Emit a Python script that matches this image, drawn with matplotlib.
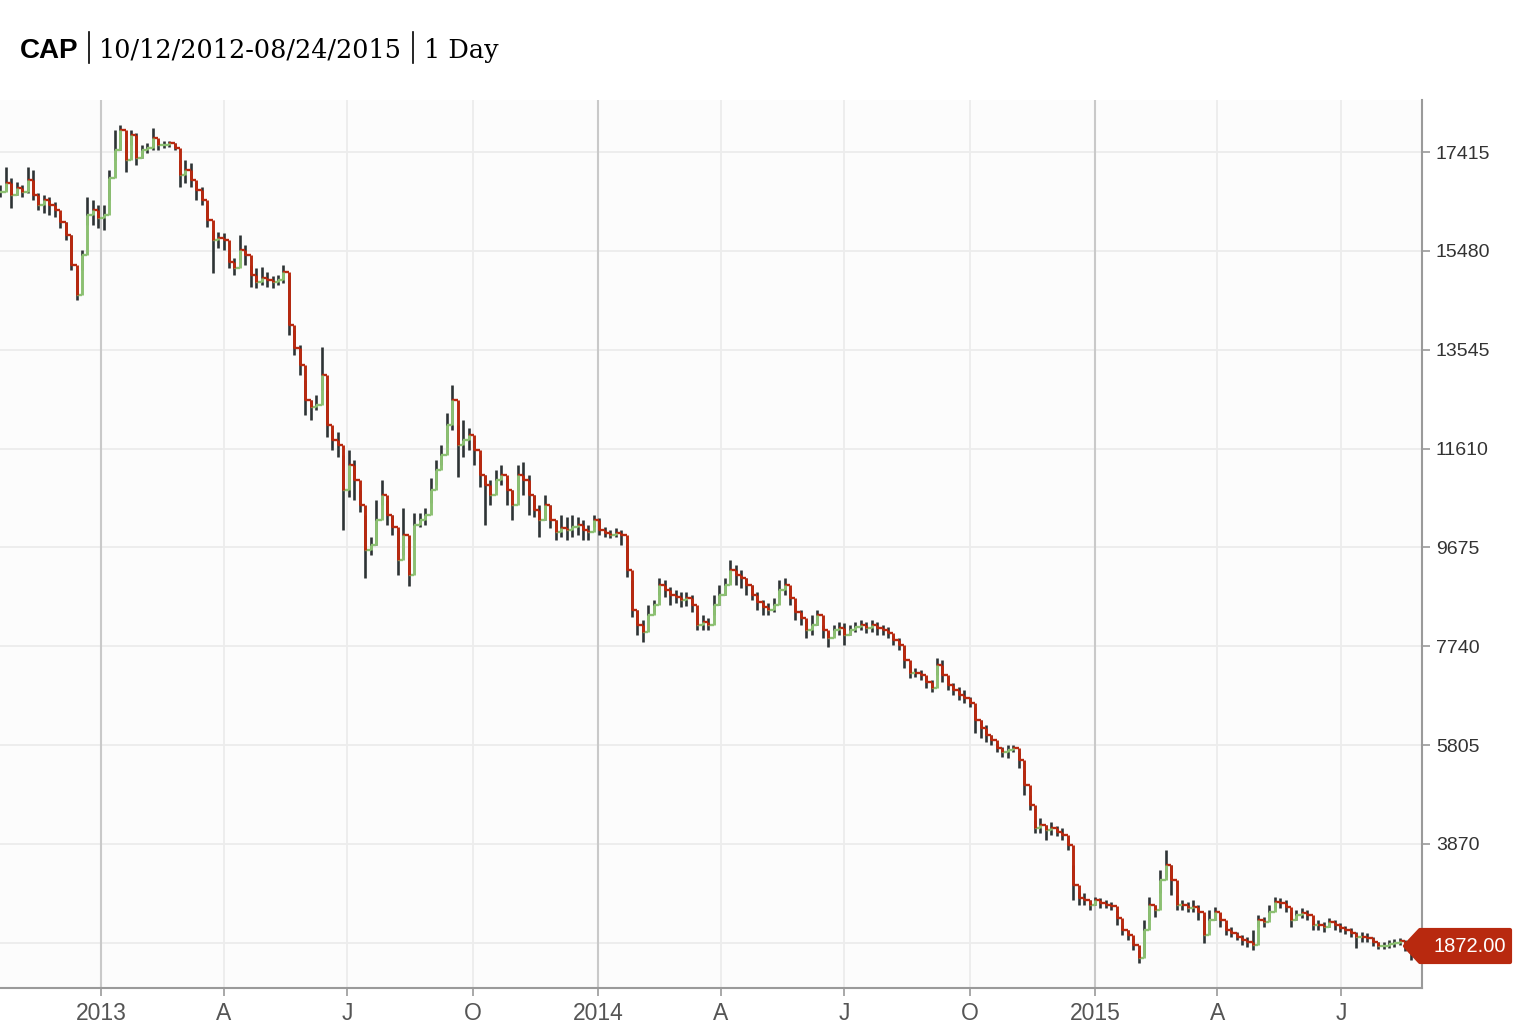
"""
CAP daily price chart, 10/12/2012 - 08/24/2015.
"""

import matplotlib
matplotlib.use("Agg")
import matplotlib.pyplot as plt
import matplotlib.dates as mdates
from matplotlib.lines import Line2D
from matplotlib.patches import Polygon
import numpy as np
import pandas as pd

# closes / highs / lows, one bar every 4 calendar days from 2012-10-19
closes = [
    16630, 16810, 16570, 16710, 16630, 16870, 16570, 16380, 16480, 16380,
    16280, 16050, 15790, 15200, 14620, 15400, 16180, 16280, 16120, 16180,
    16910, 17450, 17850, 17260, 17750, 17300, 17450, 17490, 17690, 17550,
    17550, 17590, 17490, 16960, 17060, 16870, 16670, 16480, 16080, 15690,
    15730, 15690, 15260, 15140, 15500, 15400, 15010, 14870, 14950, 14910,
    14870, 14910, 15070, 14030, 13580, 13250, 12560, 12420, 12460, 13050,
    12070, 11780, 11680, 10800, 11290, 10990, 10510, 9630, 9720, 10210,
    10700, 10310, 10080, 9430, 9920, 9140, 10110, 10210, 10310, 10800,
    11190, 11480, 12070, 12560, 11680, 11780, 11880, 11580, 11090, 10900,
    10700, 10990, 11090, 10800, 10510, 11090, 10990, 10700, 10410, 10210,
    10510, 10210, 9980, 10060, 10020, 10080, 10110, 10020, 9980, 10210,
    10020, 9960, 9920, 9960, 9920, 9230, 8450, 8160, 8020, 8350,
    8550, 8940, 8840, 8740, 8710, 8650, 8690, 8550, 8160, 8220,
    8160, 8550, 8740, 8940, 9230, 9140, 9080, 8940, 8740, 8610,
    8510, 8450, 8550, 8840, 8940, 8690, 8410, 8290, 8060, 8160,
    8350, 8060, 7900, 8060, 8100, 7960, 8060, 8120, 8160, 8100,
    8160, 8100, 8060, 8000, 7860, 7770, 7470, 7220, 7220, 7180,
    7040, 6920, 7370, 7180, 6980, 6890, 6790, 6730, 6630, 6300,
    6140, 6000, 5910, 5750, 5670, 5710, 5750, 5510, 5030, 4630,
    4180, 4240, 4140, 4180, 4100, 4050, 3850, 3070, 2810, 2770,
    2680, 2770, 2720, 2680, 2660, 2420, 2190, 2090, 1890, 1640,
    2190, 2680, 2580, 3170, 3460, 3170, 2680, 2680, 2620, 2640,
    2540, 2090, 2380, 2540, 2380, 2190, 2130, 2050, 1990, 1950,
    1890, 2380, 2340, 2540, 2740, 2720, 2640, 2380, 2480, 2520,
    2480, 2280, 2280, 2250, 2340, 2280, 2230, 2190, 2130, 2050,
    2050, 2030, 1950, 1870, 1870, 1910, 1930, 1970, 1850, 1870,
    1872,
]
highs = [
    16770, 17120, 16910, 16830, 16770, 17120, 17060, 16610, 16570, 16530,
    16440, 16180, 16050, 15790, 15110, 15500, 16530, 16480, 16380, 16380,
    17060, 17850, 17940, 17650, 17850, 17790, 17550, 17590, 17890, 17650,
    17630, 17630, 17590, 17260, 17260, 17200, 16830, 16730, 16380, 15890,
    15850, 15830, 15440, 15340, 15790, 15600, 15200, 15140, 15160, 15070,
    14990, 15010, 15200, 15010, 13930, 13640, 12950, 12560, 12660, 13600,
    12760, 11970, 11930, 11480, 11580, 11390, 10800, 10310, 9880, 10600,
    10990, 10600, 10310, 10020, 10450, 9490, 10350, 10350, 10450, 11030,
    11390, 11680, 12310, 12860, 12070, 12170, 12010, 11780, 11480, 11090,
    10990, 11190, 11290, 11030, 10800, 11290, 11350, 11090, 10700, 10510,
    10700, 10510, 10210, 10310, 10270, 10310, 10270, 10210, 10110, 10310,
    10250, 10080, 10020, 10060, 10020, 9720, 9040, 8450, 8260, 8550,
    8650, 9080, 9040, 8900, 8840, 8800, 8800, 8740, 8410, 8350,
    8290, 8740, 8940, 9080, 9430, 9330, 9230, 9080, 8940, 8800,
    8650, 8590, 8690, 9040, 9080, 8880, 8550, 8450, 8260, 8350,
    8450, 8160, 8020, 8160, 8220, 8200, 8160, 8220, 8260, 8220,
    8260, 8220, 8160, 8120, 7960, 7900, 7710, 7370, 7320, 7280,
    7160, 7080, 7510, 7470, 7140, 7020, 6940, 6890, 6750, 6550,
    6300, 6200, 6000, 5850, 5770, 5810, 5810, 5670, 5320, 4830,
    4340, 4380, 4240, 4300, 4220, 4180, 3990, 3460, 2930, 2910,
    2770, 2830, 2810, 2770, 2740, 2580, 2280, 2190, 2030, 1790,
    2380, 2830, 2680, 3360, 3750, 3460, 2870, 2770, 2740, 2770,
    2680, 2480, 2580, 2640, 2520, 2280, 2250, 2150, 2090, 2050,
    2190, 2480, 2440, 2680, 2830, 2810, 2770, 2540, 2580, 2620,
    2580, 2380, 2380, 2340, 2420, 2380, 2320, 2270, 2230, 2150,
    2150, 2130, 2050, 1950, 1950, 1990, 2010, 2030, 1990, 1950,
    1950,
]
lows = [
    16530, 16670, 16320, 16570, 16530, 16610, 16480, 16280, 16220, 16180,
    16140, 15930, 15690, 15110, 14520, 15110, 15990, 15990, 15930, 15890,
    16480, 17260, 17450, 17020, 17550, 17160, 17300, 17400, 17450, 17450,
    17490, 17510, 17450, 16730, 16810, 16730, 16480, 16380, 15950, 15050,
    15540, 15500, 15140, 15010, 15300, 15200, 14770, 14750, 14810, 14770,
    14750, 14810, 14850, 13830, 13440, 13050, 12270, 12170, 12370, 12760,
    11840, 11580, 11450, 10020, 10660, 10600, 10370, 9080, 9530, 9720,
    10510, 10110, 9920, 9140, 9530, 8920, 9820, 10080, 10110, 10540,
    10900, 11290, 11720, 11970, 11050, 11450, 11580, 11290, 10860, 10110,
    10510, 10800, 10900, 10510, 10210, 10800, 10700, 10310, 10270, 9880,
    10210, 10060, 9820, 9880, 9820, 9880, 9920, 9820, 9820, 10080,
    9920, 9880, 9860, 9880, 9720, 9100, 8310, 7960, 7820, 8260,
    8410, 8740, 8710, 8550, 8590, 8510, 8530, 8410, 8060, 8060,
    8060, 8350, 8550, 8740, 9000, 8940, 8880, 8740, 8650, 8450,
    8350, 8350, 8410, 8690, 8740, 8550, 8260, 8160, 7900, 7960,
    8160, 7900, 7730, 7960, 7960, 7770, 7960, 8020, 8060, 8000,
    8020, 7960, 7960, 7900, 7770, 7670, 7320, 7120, 7140, 7080,
    6920, 6850, 7180, 7040, 6890, 6790, 6690, 6630, 6550, 6040,
    5950, 5870, 5810, 5670, 5570, 5550, 5670, 5360, 4830, 4540,
    4090, 4090, 3950, 4050, 4030, 3950, 3750, 2770, 2680, 2680,
    2580, 2680, 2620, 2620, 2580, 2280, 2090, 1990, 1790, 1540,
    1700, 2380, 2440, 2910, 3220, 2870, 2580, 2580, 2540, 2540,
    2380, 1930, 2190, 2380, 2250, 2090, 2050, 1990, 1890, 1850,
    1790, 2250, 2250, 2420, 2620, 2620, 2540, 2250, 2380, 2420,
    2380, 2190, 2190, 2150, 2250, 2190, 2150, 2110, 2050, 1830,
    1950, 1950, 1870, 1810, 1810, 1830, 1850, 1890, 1770, 1600,
    1700,
]

y_ticks = [1935, 3870, 5805, 7740, 9675, 11610, 13545, 15480, 17415]
x_tick_dates = [
    "2013-01-01", "2013-04-01", "2013-07-01", "2013-10-01",
    "2014-01-01", "2014-04-01", "2014-07-01", "2014-10-01",
    "2015-01-01", "2015-04-01", "2015-07-01",
]
x_tick_labels = ["2013", "A", "J", "O", "2014", "A", "J", "O", "2015", "A", "J"]
last_price = 1872.00

RED = "#b8290f"
GREEN = "#8cc072"
WICK = "#2e3335"
W, H = 1522, 1026

closes = np.array(closes, dtype=float)
highs = np.array(highs, dtype=float)
lows = np.array(lows, dtype=float)
opens = np.r_[closes[0], closes[:-1]]
up = closes >= opens
colors = np.where(up, GREEN, RED)

dates = pd.date_range("2012-10-19", periods=len(closes), freq="4D")
x = mdates.date2num(dates)

fig = plt.figure(figsize=(W / 100, H / 100), dpi=100)
fig.patch.set_facecolor("white")

ax = fig.add_axes([0, 1 - 988 / H, 1422 / W, 888 / H])
ax.set_facecolor("#fcfcfc")

# wicks, then bodies joined into a thin staircase
ax.vlines(x, lows, highs, color=WICK, linewidth=1.9, zorder=3)
ax.hlines(opens[1:], x[:-1], x[1:], colors=colors[1:], linewidth=1.7,
          zorder=4)
ax.vlines(x, opens, closes, colors=colors, linewidth=2.1, zorder=4)

x0 = mdates.date2num(pd.Timestamp("2013-01-01"))
ax.set_xlim(x0 - 74.2, x0 + 970.2)
ax.set_ylim(1051, 18433)

# grid
for v in y_ticks:
    ax.axhline(v, color="#ececec", linewidth=1.3, zorder=1)
tick_x = mdates.date2num(pd.to_datetime(x_tick_dates))
for t, lab in zip(tick_x, x_tick_labels):
    year_line = lab.isdigit()
    ax.axvline(t, color="#c9c9c9" if year_line else "#ececec",
               linewidth=1.5 if year_line else 1.3, zorder=1)

ax.set_xticks(tick_x)
ax.set_xticklabels(x_tick_labels)
ax.set_yticks(y_ticks)
ax.set_yticklabels([""] + [str(v) for v in y_ticks[1:]])

ax.yaxis.tick_right()
for side in ["top", "left"]:
    ax.spines[side].set_visible(False)
for side in ["right", "bottom"]:
    ax.spines[side].set_color("#9a9a9a")
    ax.spines[side].set_linewidth(1.5)

ax.tick_params(axis="y", direction="out", length=6, width=1.2,
               color="#9a9a9a", pad=4, labelsize=14, labelcolor="#333333")
ax.tick_params(axis="x", direction="out", length=6, width=1.2,
               color="#9a9a9a", pad=4, labelsize=16.5, labelcolor="#555555")
for lab in ax.get_xticklabels() + ax.get_yticklabels():
    lab.set_fontfamily("Liberation Sans")

# title
fig.text(20 / W, 1 - 58 / H, "CAP", fontsize=20, fontweight="bold",
         family="Liberation Sans", va="baseline", ha="left")
fig.text(99 / W, 1 - 58 / H, "10/12/2012-08/24/2015", fontsize=18.4,
         family="DejaVu Serif", va="baseline", ha="left")
fig.text(424 / W, 1 - 58 / H, "1 Day", fontsize=18.4,
         family="DejaVu Serif", va="baseline", ha="left")
for px in [89, 413]:
    fig.add_artist(Line2D([px / W, px / W], [1 - 32 / H, 1 - 63 / H],
                          color="black", linewidth=1.2))

# last price tag
ty = 1 - 946 / H
tag = Polygon([
    (1405 / W, ty),
    (1420 / W, 1 - 930 / H),
    (1510 / W, 1 - 930 / H),
    (1510 / W, 1 - 962 / H),
    (1420 / W, 1 - 962 / H),
], closed=True, transform=fig.transFigure, facecolor=RED,
    edgecolor=RED, linewidth=3, joinstyle="round", zorder=5)
fig.add_artist(tag)
fig.text(1470 / W, ty, f"{last_price:.2f}", color="white", fontsize=14.5,
         family="Liberation Sans", ha="center", va="center", zorder=6)

fig.savefig("out.png", dpi=100)
plt.close(fig)
